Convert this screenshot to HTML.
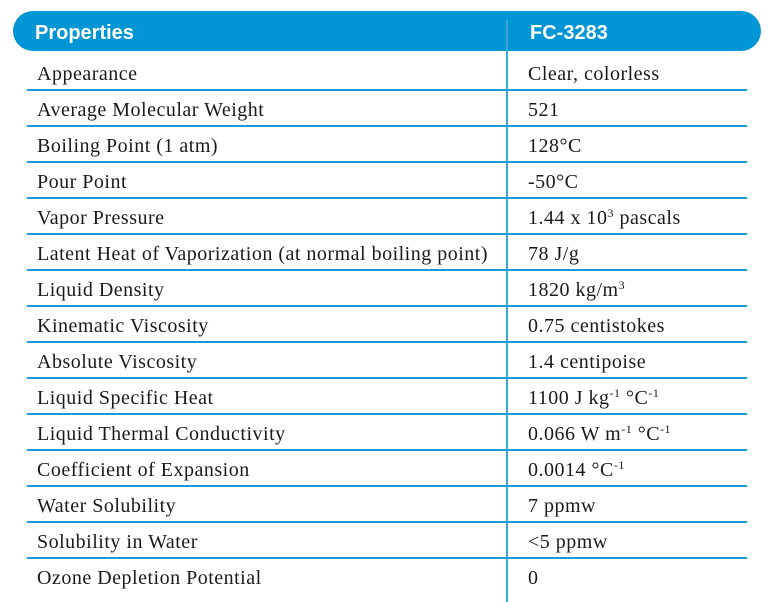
<!DOCTYPE html><html><head><style>
body{margin:0;width:771px;height:602px;background:#fff;position:relative;overflow:hidden;font-family:"Liberation Serif",serif;color:#1a1a1a}
.hdr{position:absolute;left:13px;top:11px;width:748px;height:40px;background:#0096d6;border-radius:20px}
.h{position:absolute;top:11px;height:40px;color:#fff;font:bold 20px/44px "Liberation Sans",sans-serif}
.vl{position:absolute;left:506px;top:20px;width:1.5px;height:582px;background:#3aa8dc}
.hl{position:absolute;left:27px;width:720px;height:1.5px;background:#1a9ad8}
.t{position:absolute;font-size:20px;letter-spacing:0.5px;line-height:20px;white-space:nowrap}
sup{font-size:12px;vertical-align:7px;line-height:0}
</style></head><body>
<div class="hdr"></div>
<div class="vl"></div>
<div class="h" style="left:35px">Properties</div>
<div class="h" style="left:530px">FC-3283</div>
<div id="r"></div>
<script>
var rows=[["Appearance","Clear, colorless"],["Average Molecular Weight","521"],["Boiling Point (1 atm)","128°C"],["Pour Point","-50°C"],["Vapor Pressure","1.44 x 10<sup>3</sup> pascals"],["Latent Heat of Vaporization (at normal boiling point)","78 J/g"],["Liquid Density","1820 kg/m<sup>3</sup>"],["Kinematic Viscosity","0.75 centistokes"],["Absolute Viscosity","1.4 centipoise"],["Liquid Specific Heat","1100 J kg<sup>-1</sup> °C<sup>-1</sup>"],["Liquid Thermal Conductivity","0.066 W m<sup>-1</sup> °C<sup>-1</sup>"],["Coefficient of Expansion","0.0014 °C<sup>-1</sup>"],["Water Solubility","7 ppmw"],["Solubility in Water","&lt;5 ppmw"],["Ozone Depletion Potential","0"]];
var h="";
rows.forEach(function(r,i){var c=74+36*i;
h+='<div class="t" style="left:37px;top:'+(c-10)+'px">'+r[0]+'</div><div class="t" style="left:528px;top:'+(c-10)+'px">'+r[1]+'</div>';
if(i<14)h+='<div class="hl" style="top:'+(89+36*i)+'px"></div>';});
document.getElementById("r").innerHTML=h;
</script>
</body></html>
